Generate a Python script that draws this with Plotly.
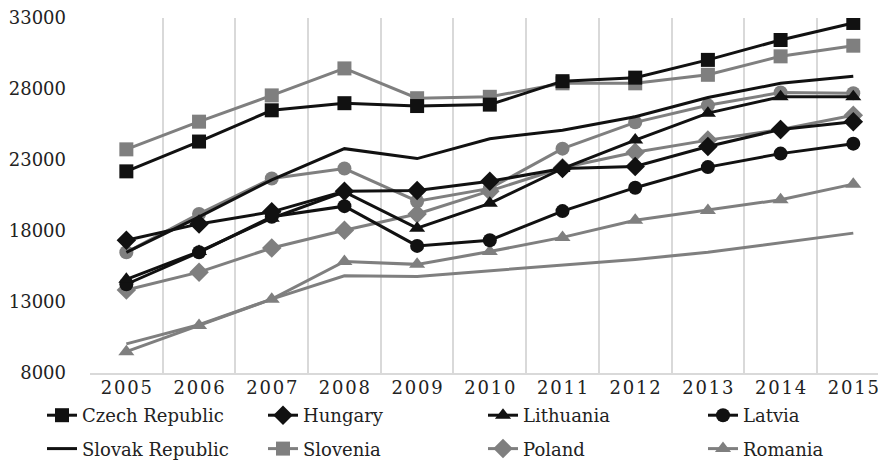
import plotly.graph_objects as go

years = ["2005", "2006", "2007", "2008", "2009", "2010", "2011", "2012", "2013", "2014", "2015"]
year_labels = ["2\u200a0\u200a0\u200a5", "2\u200a0\u200a0\u200a6", "2\u200a0\u200a0\u200a7", "2\u200a0\u200a0\u200a8",
               "2\u200a0\u200a0\u200a9", "2\u200a0\u200a1\u200a0", "2\u200a0\u200a1\u200a1", "2\u200a0\u200a1\u200a2",
               "2\u200a0\u200a1\u200a3", "2\u200a0\u200a1\u200a4", "2\u200a0\u200a1\u200a5"]
y_ticks = [8000, 13000, 18000, 23000, 28000, 33000]

czech = [22200, 24300, 26500, 27000, 26800, 26900, 28550, 28800, 30050, 31450, 32650]
hungary = [17350, 18500, 19350, 20800, 20850, 21500, 22400, 22550, 23950, 25150, 25700]
lithuania = [14600, 16550, 18900, 20750, 18200, 19950, 22400, 24400, 26300, 27450, 27450]
latvia = [14250, 16500, 19000, 19750, 16950, 17350, 19400, 21050, 22500, 23450, 24150]
slovak = [16500, 19000, 21600, 23800, 23100, 24500, 25100, 26050, 27400, 28400, 28900]
slovenia = [23750, 25700, 27550, 29450, 27350, 27450, 28400, 28400, 29000, 30300, 31050]
poland = [13850, 15100, 16800, 18050, 19200, 20800, 22450, 23550, 24400, 25150, 26150]
romania = [9500, 11350, 13200, 15850, 15650, 16550, 17550, 18750, 19450, 20200, 21300]
unlabelled_circle = [16500, 19200, 21700, 22400, 20100, 21000, 23800, 25650, 26850, 27750, 27700]
unlabelled_line = [10050, 11400, 13200, 14850, 14800, 15200, 15600, 16000, 16500, 17200, 17850]

BLACK = "#111111"
GRAY = "#7f7f7f"

# (name, values, colour, marker symbol, legend id)
series = [
    ("Czech Republic", czech, BLACK, "square", "legend"),
    ("Hungary", hungary, BLACK, "diamond", "legend2"),
    ("Lithuania", lithuania, BLACK, "triangle-up", "legend3"),
    ("Latvia", latvia, BLACK, "circle", "legend4"),
    ("Slovak Republic", slovak, BLACK, None, "legend"),
    ("Slovenia", slovenia, GRAY, "square", "legend2"),
    ("Poland", poland, GRAY, "diamond", "legend3"),
    ("Romania", romania, GRAY, "triangle-up", "legend4"),
    ("Series 9", unlabelled_circle, GRAY, "circle", None),
    ("Series 10", unlabelled_line, GRAY, None, None),
]

fig = go.Figure()
for i in [9, 8, 7, 6, 5, 4, 3, 2, 1, 0]:
    name, vals, color, sym, leg = series[i]
    fig.add_trace(go.Scatter(
        x=years, y=vals, name=name,
        mode="lines+markers" if sym else "lines",
        line=dict(color=color, width=3),
        marker=dict(symbol=sym or "circle", size=15 if sym == "diamond" else 14,
                    color=color, line=dict(width=0)),
        showlegend=leg is not None, legend=leg or "legend",
        legendgroup=name, legendrank=i + 1,
    ))

W, H = 878, 452  # page body adds an 8px margin
legend_font = dict(family="DejaVu Serif", size=18, color="#222222")
leg_common = dict(orientation="v", xref="container", yref="container", xanchor="left",
                  yanchor="top", y=1 - 389 / H, font=legend_font, tracegroupgap=7,
                  traceorder="grouped", bgcolor="rgba(0,0,0,0)")

fig.update_layout(
    width=W, height=H,
    margin=dict(l=82, r=0, t=10, b=87, autoexpand=False),
    plot_bgcolor="white", paper_bgcolor="white",
    font=dict(family="DejaVu Serif", size=18, color="#222222"),
    showlegend=True,
    legend=dict(x=34 / W, **leg_common),
    legend2=dict(x=255 / W, **leg_common),
    legend3=dict(x=475 / W, **leg_common),
    legend4=dict(x=695 / W, **leg_common),
    xaxis=dict(type="category", categoryorder="array", categoryarray=years,
               tickvals=years, ticktext=year_labels,
               range=[-0.5, 10.45], tickson="boundaries", automargin=False,
               showgrid=True, gridcolor="#d9d9d9", gridwidth=1.5,
               showline=True, linecolor="#d9d9d9", linewidth=1.5,
               ticks="", tickfont=dict(size=18), ticklabelstandoff=-2),
    yaxis=dict(range=[8000, 33000], tickvals=y_ticks, tickformat="d", automargin=False,
               showgrid=False, zeroline=False, showline=False, ticks="",
               ticklabeloverflow="allow",
               ticklabelstandoff=23, tickfont=dict(size=18)),
)

fig.write_html("out.html")
